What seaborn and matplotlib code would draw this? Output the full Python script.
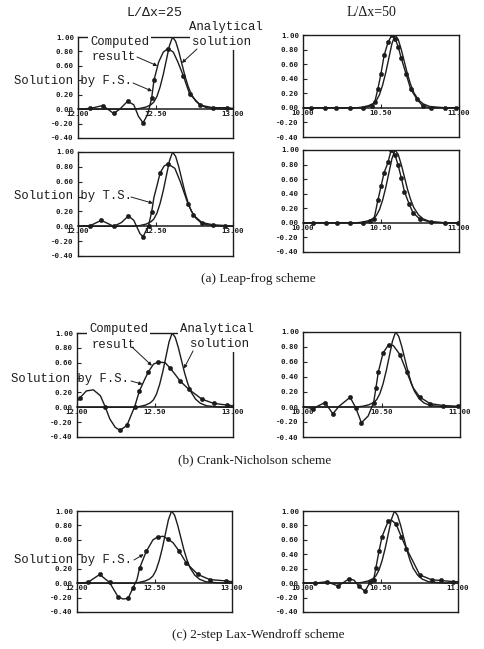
import matplotlib
matplotlib.use("Agg")
import matplotlib.pyplot as plt
import seaborn as sns
import numpy as np

# ---- analytical pulse (same curve in every panel of a column) ----
ana_y = [0.00, 0.00, 0.01, 0.03, 0.06, 0.10, 0.18, 0.31, 0.48, 0.68, 0.88, 1.00,
         0.94, 0.80, 0.63, 0.46, 0.32, 0.21, 0.11, 0.055, 0.02, 0.01, 0.00, 0.00]
ana25_x = [12.00, 12.36, 12.40, 12.44, 12.47, 12.49, 12.51, 12.53, 12.55, 12.57, 12.59, 12.61,
           12.63, 12.65, 12.67, 12.69, 12.71, 12.73, 12.76, 12.79, 12.83, 12.88, 12.94, 13.00]
ana50_x = [10.00, 10.34, 10.38, 10.42, 10.45, 10.47, 10.49, 10.51, 10.53, 10.55, 10.57, 10.59,
           10.61, 10.63, 10.65, 10.67, 10.69, 10.71, 10.74, 10.77, 10.81, 10.86, 10.92, 11.00]

# ---- computed results ----
# (a) leap-frog, L/dx=25, solution by F.S.
lf_fs25_x = [12.00, 12.08, 12.16, 12.23, 12.27, 12.32, 12.36, 12.39, 12.42, 12.45, 12.475, 12.49,
             12.52, 12.55, 12.58, 12.615, 12.645, 12.68, 12.72, 12.79, 12.87, 12.96, 13.00]
lf_fs25_y = [0.00, 0.01, 0.05, -0.06, 0.00, 0.11, 0.06, -0.10, -0.19, -0.07, 0.15, 0.40,
             0.65, 0.79, 0.84, 0.79, 0.65, 0.46, 0.21, 0.055, 0.02, 0.02, 0.01]
# (a) leap-frog, L/dx=50, solution by F.S.
lf_fs50_x = [10.00, 10.05, 10.14, 10.21, 10.30, 10.385, 10.44, 10.46, 10.48, 10.50, 10.52, 10.545,
             10.57, 10.59, 10.61, 10.63, 10.66, 10.69, 10.73, 10.77, 10.82, 10.91, 10.98, 11.00]
lf_fs50_y = [0.00, 0.00, 0.00, 0.00, 0.00, 0.00, 0.03, 0.08, 0.26, 0.47, 0.72, 0.90,
             1.00, 0.95, 0.84, 0.68, 0.47, 0.26, 0.12, 0.02, 0.00, 0.00, 0.00, 0.00]
# (a) leap-frog, L/dx=25, solution by T.S.
lf_ts25_x = [12.00, 12.08, 12.15, 12.23, 12.28, 12.325, 12.36, 12.40, 12.42, 12.455, 12.475, 12.49,
             12.51, 12.53, 12.555, 12.58, 12.625, 12.66, 12.71, 12.745, 12.80, 12.87, 12.95, 13.00]
lf_ts25_y = [0.00, 0.01, 0.08, 0.00, 0.05, 0.14, 0.08, -0.10, -0.14, 0.01, 0.19, 0.39,
             0.55, 0.72, 0.81, 0.84, 0.78, 0.60, 0.30, 0.15, 0.05, 0.02, 0.01, 0.00]
# (a) leap-frog, L/dx=50, solution by T.S.
lf_ts50_x = [10.00, 10.064, 10.145, 10.22, 10.30, 10.385, 10.43, 10.455, 10.48, 10.50, 10.52, 10.545,
             10.565, 10.59, 10.61, 10.63, 10.65, 10.68, 10.705, 10.75, 10.82, 10.91, 10.995, 11.00]
lf_ts50_y = [0.00, 0.00, 0.00, 0.00, 0.00, 0.00, 0.02, 0.05, 0.31, 0.50, 0.69, 0.83,
             1.00, 0.93, 0.79, 0.62, 0.43, 0.26, 0.14, 0.05, 0.01, 0.00, 0.00, 0.00]
# (b) Crank-Nicholson, L/dx=25
cn25_x = [12.00, 12.02, 12.06, 12.105, 12.15, 12.18, 12.21, 12.245, 12.275, 12.32, 12.35, 12.37, 12.40,
          12.435, 12.457, 12.49, 12.52, 12.565, 12.596, 12.63, 12.66, 12.715, 12.80, 12.875, 12.96, 13.00]
cn25_y = [0.08, 0.13, 0.22, 0.235, 0.155, 0.01, -0.155, -0.27, -0.31, -0.245, -0.09, 0.01, 0.22,
          0.38, 0.475, 0.58, 0.61, 0.60, 0.53, 0.44, 0.355, 0.245, 0.11, 0.053, 0.03, 0.02]
# (b) Crank-Nicholson, L/dx=50
cn50_x = [10.00, 10.064, 10.14, 10.19, 10.23, 10.30, 10.336, 10.372, 10.415, 10.45, 10.465, 10.48,
          10.51, 10.545, 10.575, 10.617, 10.66, 10.70, 10.745, 10.81, 10.89, 10.99, 11.00]
cn50_y = [0.00, -0.02, 0.06, -0.09, 0.01, 0.13, -0.01, -0.21, -0.12, 0.06, 0.26, 0.47,
          0.72, 0.83, 0.82, 0.70, 0.47, 0.26, 0.13, 0.045, 0.02, 0.01, 0.01]
# (c) 2-step Lax-Wendroff, L/dx=25
lw25_x = [12.00, 12.07, 12.146, 12.21, 12.265, 12.297, 12.33, 12.36, 12.387, 12.404, 12.447, 12.49,
          12.52, 12.555, 12.587, 12.62, 12.66, 12.705, 12.78, 12.856, 12.963, 13.00]
lw25_y = [0.00, 0.01, 0.12, 0.01, -0.19, -0.22, -0.21, -0.07, 0.05, 0.21, 0.44, 0.60,
          0.64, 0.65, 0.61, 0.56, 0.44, 0.28, 0.12, 0.05, 0.03, 0.02]
# (c) 2-step Lax-Wendroff, L/dx=50
lw50_x = [10.00, 10.075, 10.155, 10.226, 10.297, 10.33, 10.36, 10.40, 10.434, 10.456, 10.47, 10.49,
          10.51, 10.55, 10.57, 10.60, 10.634, 10.667, 10.71, 10.753, 10.83, 10.89, 10.97, 11.00]
lw50_y = [0.00, 0.00, 0.02, -0.04, 0.06, 0.04, -0.04, -0.115, 0.02, 0.05, 0.21, 0.44,
          0.645, 0.86, 0.875, 0.82, 0.645, 0.48, 0.30, 0.115, 0.046, 0.037, 0.02, 0.02]

ytick_vals = [1.0, 0.8, 0.6, 0.4, 0.2, 0.0, -0.2, -0.4]
ytick_text = ["1.00", "0.80", "0.60", "0.40", "0.20", "0.00", "-0.20", "-0.40"]
xtick_25 = ["12.00", "12.50", "13.00"]
xtick_50 = ["10.00", "10.50", "11.00"]

W, H = 484, 649
INK = "#1c1c1c"
MONO = ["Liberation Mono", "DejaVu Sans Mono"]
TICKFONT = dict(family="DejaVu Sans Mono", fontweight="bold", fontsize=5.3, color=INK)

sns.set_style("white")
plt.rcParams["font.family"] = MONO

fig = plt.figure(figsize=(W / 100, H / 100), dpi=100)


def fpos(px, py):
    return (px / W, 1 - py / H)


def make_panel(box, x0, xlabels, ana_x, cx, cy, marks, left_col):
    l, t, r, b = box
    ax = fig.add_axes([l / W, 1 - b / H, (r - l) / W, (b - t) / H])
    sns.lineplot(x=ana_x, y=ana_y, ax=ax, color=INK, lw=1.0, estimator=None, sort=False)
    sns.lineplot(x=cx, y=cy, ax=ax, color=INK, lw=1.0, estimator=None, sort=False)
    sns.scatterplot(x=np.array(cx)[marks], y=np.array(cy)[marks], ax=ax, color=INK,
                    s=10, edgecolor=INK, linewidth=0.3, zorder=4)
    ax.set_xlim(x0, x0 + 1)
    ax.set_ylim(-0.4, 1.0)
    ax.set_xticks([])
    labels = ["" if (left_col and v == "0.40") else v for v in ytick_text]
    ax.set_yticks(ytick_vals, labels, **TICKFONT)
    ax.tick_params(axis="y", direction="in", length=3, width=0.8, pad=3, left=True)
    for s in ax.spines.values():
        s.set_color(INK)
        s.set_linewidth(1.0)
    sec = ax.secondary_xaxis(0.4 / 1.4)
    sec.set_xticks([x0, x0 + 0.5, x0 + 1], xlabels, **TICKFONT)
    sec.tick_params(direction="in", length=3, width=0.8, pad=1.5)
    sec.spines["bottom"].set_linewidth(1.1)
    sec.spines["bottom"].set_color(INK)
    return ax


ARROW = dict(arrowstyle="-|>", color=INK, lw=0.7, mutation_scale=5, shrinkA=0, shrinkB=0)
WHITE = dict(facecolor="white", edgecolor="none", pad=1.5)


def label(ax, txt, px, py, box=False, size=8.8):
    ax.annotate(txt, xy=fpos(px, py), xycoords="figure fraction", ha="left", va="center",
                fontsize=size, color=INK, family=MONO, annotation_clip=False,
                bbox=WHITE if box else None, zorder=6)


def arrow(ax, px, py, x, y):
    ax.annotate("", xy=(x, y), xycoords="data", xytext=fpos(px, py),
                textcoords="figure fraction", arrowprops=ARROW, annotation_clip=False, zorder=6)


# (a) leap-frog
a1 = make_panel((78, 37, 233, 138), 12.0, xtick_25, ana25_x, lf_fs25_x, lf_fs25_y,
                [1, 2, 3, 5, 8, 10, 11, 14, 17, 18, 19, 20, 21], True)
make_panel((303, 35, 459, 137), 10.0, xtick_50, ana50_x, lf_fs50_x, lf_fs50_y,
           list(range(1, 23)), False)
a2 = make_panel((78, 152, 233, 256), 12.0, xtick_25, ana25_x, lf_ts25_x, lf_ts25_y,
                [1, 2, 3, 5, 8, 9, 10, 13, 15, 18, 19, 20, 21, 22], True)
make_panel((303, 150, 459, 252), 10.0, xtick_50, ana50_x, lf_ts50_x, lf_ts50_y,
           list(range(1, 23)), False)
# (b) Crank-Nicholson
b1 = make_panel((77, 333, 233, 437), 12.0, xtick_25, ana25_x, cn25_x, cn25_y,
                [1, 5, 8, 9, 11, 12, 14, 16, 18, 20, 21, 22, 23, 24], True)
make_panel((303, 332, 460, 437), 10.0, xtick_50, ana50_x, cn50_x, cn50_y,
           [1, 2, 3, 5, 6, 7, 9, 10, 11, 12, 13, 15, 16, 18, 19, 20, 21], False)
# (c) 2-step Lax-Wendroff
c1 = make_panel((77, 511, 232, 612), 12.0, xtick_25, ana25_x, lw25_x, lw25_y,
                [1, 2, 3, 4, 6, 7, 9, 10, 12, 14, 16, 17, 18, 19, 20], True)
make_panel((303, 511, 458, 612), 10.0, xtick_50, ana50_x, lw50_x, lw50_y,
           [1, 2, 3, 4, 6, 7, 8, 9, 10, 11, 12, 13, 15, 16, 17, 19, 20, 21, 22], False)

# annotations, panel (a) top
label(a1, "Computed", 90, 42, box=True)
label(a1, "result", 92, 57)
arrow(a1, 137, 57, 12.512, 0.60)
label(a1, "Analytical", 189, 27, box=True)
label(a1, "solution", 192, 42, box=True)
arrow(a1, 197, 49, 12.67, 0.64)
label(a1, "Solution by F.S.", 14, 81)
arrow(a1, 133, 83, 12.478, 0.25)
# panel (a) bottom
label(a2, "Solution by T.S.", 14, 196)
arrow(a2, 131, 197, 12.484, 0.31)
# panel (b)
label(b1, "Computed", 89, 329, box=True)
label(b1, "result", 92, 345)
arrow(b1, 132, 347, 12.48, 0.56)
label(b1, "Analytical", 180, 329, box=True)
label(b1, "solution", 190, 344, box=True)
arrow(b1, 193, 351, 12.685, 0.52)
label(b1, "Solution by F.S.", 11, 379)
arrow(b1, 131, 381, 12.42, 0.31)
# panel (c)
label(c1, "Solution by F.S.", 14, 560)
arrow(c1, 134, 560, 12.43, 0.40)

# column headers and captions
fig.text(*fpos(155, 13), "L/\u0394x=25", ha="center", va="center", fontsize=9.5,
         family=MONO, color=INK)
fig.text(*fpos(371, 13), "L/\u0394x=50", ha="center", va="center", fontsize=10,
         family=["Liberation Serif", "DejaVu Serif"], color=INK)
SERIF = dict(ha="center", va="center", fontsize=9.5, family=["Liberation Serif", "DejaVu Serif"],
             color=INK)
fig.text(*fpos(258, 279), "(a) Leap-frog scheme", **SERIF)
fig.text(*fpos(255, 460), "(b) Crank-Nicholson scheme", **SERIF)
fig.text(*fpos(258, 635), "(c) 2-step Lax-Wendroff scheme", **SERIF)

fig.savefig("out.png", dpi=100, facecolor="white")
